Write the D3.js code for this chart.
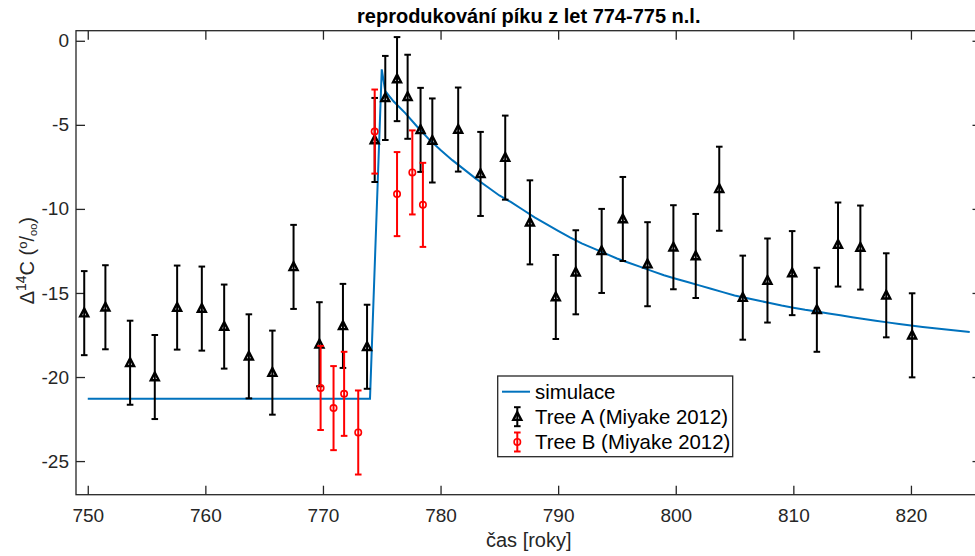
<!DOCTYPE html>
<html><head><meta charset="utf-8">
<script src="https://cdn.jsdelivr.net/npm/d3@7"></script>
<style>
body{margin:0;background:#fff}
svg{display:block}
text{font-family:"Liberation Sans",Arial,Helvetica,sans-serif}
</style>
</head><body>
<svg id="chart" width="975" height="556"></svg>
<script>
// ---- data ----
const title = "reprodukování píku z let 774-775 n.l.";
const xLabel = "čas [roky]";
const xTicks = [750, 760, 770, 780, 790, 800, 810, 820];
const yTicks = [0, -5, -10, -15, -20, -25];
const legendLabels = ["simulace", "Tree A (Miyake 2012)", "Tree B (Miyake 2012)"];

const simYears  = [750, 774.0, 775.0, 775.3, 776, 777, 778, 779, 780, 781, 782, 783, 784, 785, 786, 787, 788, 789, 790,
  791, 792, 793, 794, 795, 796, 797, 798, 799, 800, 801, 802, 803, 804, 805, 806, 807, 808, 809, 810,
  811, 812, 813, 814, 815, 816, 817, 818, 819, 820, 821, 822, 823, 824, 825];
const simValues = [-21.29, -21.29, -1.7, -3.0, -3.6, -4.3, -5.1, -5.85, -6.5, -7.1, -7.65, -8.2, -8.7, -9.2, -9.6, -10.05, -10.5, -10.9, -11.3,
  -11.7, -12.05, -12.35, -12.65, -12.95, -13.2, -13.45, -13.7, -13.95, -14.15, -14.35, -14.55, -14.75, -14.95, -15.15, -15.3, -15.45, -15.6, -15.75, -15.88,
  -16.0, -16.1, -16.22, -16.33, -16.44, -16.55, -16.65, -16.75, -16.85, -16.94, -17.02, -17.1, -17.17, -17.25, -17.32];

const treeAYears  = [749.7, 751.5, 753.6, 755.7, 757.6, 759.7, 761.6, 763.7, 765.7, 767.5, 769.7, 771.7, 773.75,
  774.4, 775.3, 776.3, 777.2, 778.3, 779.3, 781.5, 783.4, 785.5, 787.6, 789.8, 791.5, 793.7, 795.5, 797.6,
  799.8, 801.7, 803.7, 805.7, 807.8, 809.9, 812.0, 813.8, 815.7, 817.9, 820.1];
const treeAValues = [-16.2, -15.85, -19.15, -20.0, -15.87, -15.93, -17.0, -18.77, -19.74, -13.45, -18.05, -16.96, -18.2,
  -5.9, -3.4, -2.28, -3.33, -5.3, -5.93, -5.28, -7.92, -6.95, -10.8, -15.24, -13.77, -12.5, -10.6, -13.29,
  -12.28, -12.8, -8.8, -15.28, -14.26, -13.82, -16.0, -12.12, -12.3, -15.14, -17.52];
const treeAErrors = [2.5, 2.5, 2.5, 2.5, 2.5, 2.5, 2.5, 2.5, 2.5, 2.5, 2.5, 2.5, 2.5,
  2.5, 2.5, 2.5, 2.5, 2.5, 2.5, 2.5, 2.5, 2.5, 2.5, 2.5, 2.5, 2.5, 2.5, 2.5,
  2.5, 2.5, 2.5, 2.5, 2.5, 2.5, 2.5, 2.5, 2.5, 2.5, 2.5];

const treeBYears  = [769.8, 770.9, 771.8, 773.0, 774.4, 776.3, 777.6, 778.5];
const treeBValues = [-20.65, -21.85, -21.0, -23.3, -5.4, -9.12, -7.83, -9.76];
const treeBErrors = [2.5, 2.5, 2.5, 2.5, 2.5, 2.5, 2.5, 2.5];

// ---- layout ----
const svg = d3.select("#chart");
const L = 76, R = 981.5, T = 30.7, B = 494.7;
const axisColor = "#262626";
const blue = "#0072BD";

const x = d3.scaleLinear().domain([749, 826]).range([L, R]);
const y = d3.scaleLinear().domain([-27, 0.6]).range([B, T]);

// title
svg.append("text").attr("x", (L + R) / 2).attr("y", 22.5)
  .attr("text-anchor", "middle").attr("font-size", 20).attr("font-weight", "bold")
  .attr("fill", "#000").text(title);

// axes (ticks inward, on all four sides)
function styleAxis(g) {
  g.select(".domain").remove();
  g.selectAll(".tick line").attr("stroke", axisColor).attr("stroke-width", 1.3);
  g.selectAll(".tick text").attr("fill", axisColor).attr("font-size", 19)
    .attr("font-family", '"Liberation Sans",Arial,Helvetica,sans-serif');
}
svg.append("g").attr("transform", `translate(0,${B})`)
  .call(d3.axisBottom(x).tickValues(xTicks).tickFormat(d3.format("d")).tickSize(-9).tickPadding(14))
  .call(styleAxis);
svg.append("g").attr("transform", `translate(0,${T})`)
  .call(d3.axisTop(x).tickValues(xTicks).tickFormat("").tickSize(-9))
  .call(styleAxis);
svg.append("g").attr("transform", `translate(${L},0)`)
  .call(d3.axisLeft(y).tickValues(yTicks).tickFormat(d3.format("d")).tickSize(-9).tickPadding(7))
  .call(styleAxis);
svg.append("g").attr("transform", `translate(${R},0)`)
  .call(d3.axisRight(y).tickValues(yTicks).tickFormat("").tickSize(-9))
  .call(styleAxis);

// plain hyphen minus like reference
svg.selectAll(".tick text").text(function(){ return d3.select(this).text().replace("−", "-"); });

// box
svg.append("rect").attr("x", L).attr("y", T).attr("width", R - L).attr("height", B - T)
  .attr("fill", "none").attr("stroke", axisColor).attr("stroke-width", 1.3);

// x label
svg.append("text").attr("x", (L + R) / 2).attr("y", 547)
  .attr("text-anchor", "middle").attr("font-size", 20).attr("fill", axisColor).text(xLabel);

// y label
const yl = svg.append("text").attr("transform", `translate(33.5,${(T + B) / 2 - 2}) rotate(-90)`)
  .attr("text-anchor", "middle").attr("font-size", 20).attr("fill", axisColor);
yl.append("tspan").text("Δ");
yl.append("tspan").attr("font-size", 14).attr("dy", -8).text("14");
yl.append("tspan").attr("dy", 8).text("C (");
yl.append("tspan").attr("font-size", 13).attr("dy", -7).text("o");
yl.append("tspan").attr("dy", 7).text("/");
yl.append("tspan").attr("font-size", 11).attr("dy", 3).text("oo");
yl.append("tspan").attr("dy", -3).text(")");

// simulation line
const sim = simYears.map((d, i) => ({x: d, y: simValues[i]}));
svg.append("path").datum(sim)
  .attr("fill", "none").attr("stroke", blue).attr("stroke-width", 2)
  .attr("d", d3.line().x(d => x(d.x)).y(d => y(d.y)));

// error bar helper
function errorBars(years, vals, errs, color, markerFn) {
  const data = years.map((d, i) => ({x: d, y: vals[i], e: errs[i]}));
  const g = svg.append("g");
  const cap = 3.3;
  data.forEach(d => {
    const cx = x(d.x), y1 = y(d.y + d.e), y2 = y(d.y - d.e);
    g.append("line").attr("x1", cx).attr("x2", cx).attr("y1", y1).attr("y2", y2)
      .attr("stroke", color).attr("stroke-width", 2);
    g.append("line").attr("x1", cx - cap).attr("x2", cx + cap).attr("y1", y1).attr("y2", y1)
      .attr("stroke", color).attr("stroke-width", 2);
    g.append("line").attr("x1", cx - cap).attr("x2", cx + cap).attr("y1", y2).attr("y2", y2)
      .attr("stroke", color).attr("stroke-width", 2);
    markerFn(g, cx, y(d.y));
  });
}
function triangle(g, cx, cy) {
  g.append("path").attr("d", `M${cx},${cy - 4.5}L${cx + 4},${cy + 3.2}L${cx - 4},${cy + 3.2}Z`)
    .attr("fill", "none").attr("stroke", "#000").attr("stroke-width", 2.4).attr("stroke-linejoin", "miter");
}
function circle(g, cx, cy) {
  g.append("circle").attr("cx", cx).attr("cy", cy).attr("r", 3.2)
    .attr("fill", "none").attr("stroke", "#ff0000").attr("stroke-width", 1.6);
}
errorBars(treeAYears, treeAValues, treeAErrors, "#000", triangle);
errorBars(treeBYears, treeBValues, treeBErrors, "#ff0000", circle);

// legend
const lg = svg.append("g");
lg.append("rect").attr("x", 497.7).attr("y", 376).attr("width", 235).attr("height", 80.7)
  .attr("fill", "#fff").attr("stroke", axisColor).attr("stroke-width", 1.3);
const rowsY = [391.7, 416.7, 442];
lg.append("line").attr("x1", 502).attr("x2", 530).attr("y1", rowsY[0]).attr("y2", rowsY[0])
  .attr("stroke", blue).attr("stroke-width", 2);
function legendBar(cy, color, markerFn) {
  const cx = 517.3, cap = 3.3, h = 9.5;
  lg.append("line").attr("x1", cx).attr("x2", cx).attr("y1", cy - h).attr("y2", cy + h).attr("stroke", color).attr("stroke-width", 2);
  lg.append("line").attr("x1", cx - cap).attr("x2", cx + cap).attr("y1", cy - h).attr("y2", cy - h).attr("stroke", color).attr("stroke-width", 2);
  lg.append("line").attr("x1", cx - cap).attr("x2", cx + cap).attr("y1", cy + h).attr("y2", cy + h).attr("stroke", color).attr("stroke-width", 2);
  markerFn(lg, cx, cy);
}
legendBar(rowsY[1], "#000", triangle);
legendBar(rowsY[2], "#ff0000", circle);
legendLabels.forEach((t, i) => {
  lg.append("text").attr("x", 535).attr("y", rowsY[i]).attr("dy", "0.35em")
    .attr("font-size", 20.4).attr("fill", "#000").text(t);
});
</script>
</body></html>
